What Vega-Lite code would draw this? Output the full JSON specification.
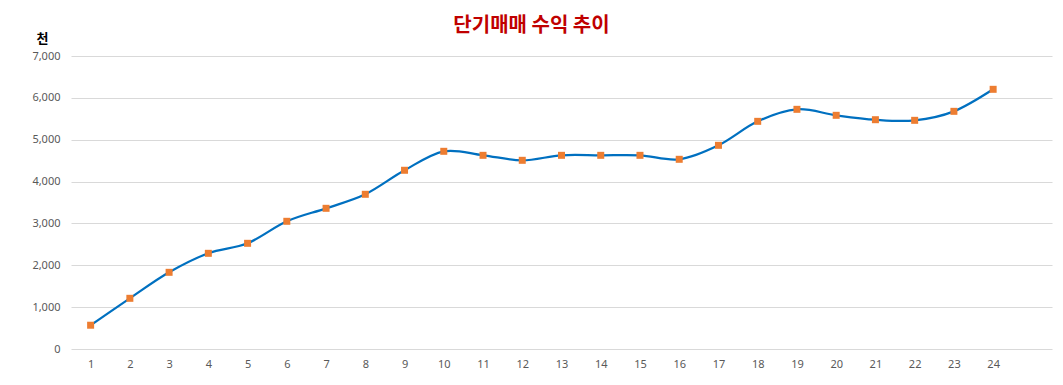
{
  "$schema": "https://vega.github.io/schema/vega-lite/v6.json",
  "width": 981,
  "height": 293,
  "autosize": {"type": "none"},
  "padding": {"left": 71, "top": 56, "right": 11, "bottom": 36},
  "background": "white",
  "title": {
    "text": "단기매매 수익 추이",
    "font": "Noto Sans CJK KR",
    "fontSize": 20,
    "fontWeight": "bold",
    "color": "#C00000",
    "anchor": "middle",
    "dx": -30,
    "dy": 4,
    "offset": 0
  },
  "data": {
    "values": [
      {"n": 1, "v": 568}, {"n": 2, "v": 1211}, {"n": 3, "v": 1832}, {"n": 4, "v": 2286},
      {"n": 5, "v": 2525}, {"n": 6, "v": 3051}, {"n": 7, "v": 3361}, {"n": 8, "v": 3696},
      {"n": 9, "v": 4270}, {"n": 10, "v": 4723}, {"n": 11, "v": 4627}, {"n": 12, "v": 4508},
      {"n": 13, "v": 4627}, {"n": 14, "v": 4627}, {"n": 15, "v": 4627}, {"n": 16, "v": 4532},
      {"n": 17, "v": 4866}, {"n": 18, "v": 5439}, {"n": 19, "v": 5726}, {"n": 20, "v": 5583},
      {"n": 21, "v": 5478}, {"n": 22, "v": 5463}, {"n": 23, "v": 5678}, {"n": 24, "v": 6204}
    ]
  },
  "encoding": {
    "x": {
      "field": "n", "type": "quantitative",
      "scale": {"domain": [0.5, 25.5], "nice": false, "zero": false},
      "axis": {
        "values": [1,2,3,4,5,6,7,8,9,10,11,12,13,14,15,16,17,18,19,20,21,22,23,24],
        "title": null, "grid": false, "ticks": false, "domain": false,
        "labelFont": "Noto Sans", "labelFontSize": 11, "labelColor": "#595959",
        "labelPadding": 9, "labelFlush": false
      }
    },
    "y": {
      "field": "v", "type": "quantitative",
      "scale": {"domain": [0, 7000], "nice": false},
      "axis": {
        "values": [0,1000,2000,3000,4000,5000,6000,7000],
        "format": ",d",
        "title": "천", "titleAngle": 0, "titleX": -29, "titleY": -18,
        "titleAlign": "center", "titleBaseline": "middle",
        "titleFont": "Noto Sans CJK KR", "titleFontSize": 13, "titleFontWeight": "bold", "titleColor": "#000000",
        "grid": true, "gridColor": "#D9D9D9", "gridWidth": 1,
        "ticks": false, "domain": false,
        "labelFont": "Noto Sans", "labelFontSize": 11, "labelColor": "#595959",
        "labelPadding": 11
      }
    }
  },
  "layer": [
    {"mark": {"type": "line", "interpolate": "cardinal", "tension": 0, "color": "#0070C0", "strokeWidth": 2.25}},
    {"mark": {"type": "square", "size": 49, "color": "#ED7D31", "opacity": 1, "filled": true}}
  ],
  "config": {"view": {"stroke": null}}
}
